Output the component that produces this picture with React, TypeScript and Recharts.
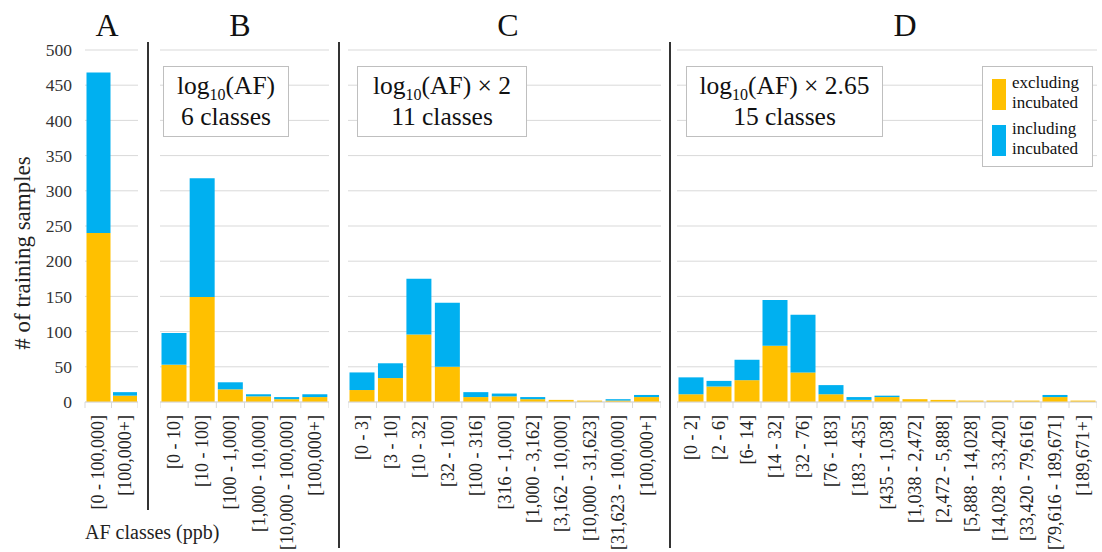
import { BarChart, Bar, XAxis, YAxis, CartesianGrid } from 'recharts';

const serif = "'Liberation Serif', 'Times New Roman', serif";

const classesA = ['[0 - 100,000]', '[100,000+]'];
const excludingA = [240, 9];
const includingA = [468, 14];

const classesB = ['[0 - 10]', '[10 - 100]', '[100 - 1,000]', '[1,000 - 10,000]', '[10,000 - 100,000]', '[100,000+]'];
const excludingB = [53, 149, 18, 8, 4, 7];
const includingB = [98, 318, 28, 11, 7, 11];

const classesC = [
    '[0 - 3]', '[3 - 10]', '[10 - 32]', '[32 - 100]', '[100 - 316]', '[316 - 1,000]',
    '[1,000 - 3,162]', '[3,162 - 10,000]', '[10,000 - 31,623]', '[31,623 - 100,000]', '[100,000+]',
];
const excludingC = [17, 34, 96, 50, 7, 8, 4, 3, 2, 2, 7];
const includingC = [42, 55, 175, 141, 14, 12, 7, 3, 2, 4, 10];

const classesD = [
    '[0 - 2]', '[2 - 6]', '[6- 14]', '[14 - 32]', '[32 - 76]', '[76 - 183]', '[183 - 435]',
    '[435 - 1,038]', '[1,038 - 2,472]', '[2,472 - 5,888]', '[5,888 - 14,028]',
    '[14,028 - 33,420]', '[33,420 - 79,616]', '[79,616 - 189,671]', '[189,671+]',
];
const excludingD = [11, 22, 31, 80, 42, 11, 3, 7, 4, 3, 2, 2, 2, 7, 2];
const includingD = [35, 30, 60, 145, 124, 24, 7, 9, 4, 3, 2, 2, 2, 10, 2];

const yTicks = [0, 50, 100, 150, 200, 250, 300, 350, 400, 450, 500];

const ORANGE = '#FFC000';
const BLUE = '#00B0F0';
const GRID = '#d9d9d9';

const CHART_H = 552;
const TOP = 50;
const AXIS_H = 150;

interface PanelProps {
    classes: string[];
    excluding: number[];
    including: number[];
    left: number;
    plotWidth: number;
    axisWidth?: number;
}

const makeTick = (band: number, count: number) => (props: any) => {
    const { x, y, payload, index } = props;
    const base = CHART_H - AXIS_H;
    return (
        <g>
            <line x1={x - band / 2} x2={x - band / 2} y1={base} y2={base + 6} stroke={GRID} />
            {index === count - 1 && (
                <line x1={x + band / 2} x2={x + band / 2} y1={base} y2={base + 6} stroke={GRID} />
            )}
            <text
                transform={`translate(${x},${y + 5}) rotate(-90)`}
                textAnchor="end"
                dominantBaseline="central"
                fontSize={18}
                fontFamily={serif}
                fill="#222"
            >
                {payload.value}
            </text>
        </g>
    );
};

const Panel = ({ classes, excluding, including, left, plotWidth, axisWidth = 0 }: PanelProps) => {
    const data = classes.map((name, i) => ({
        name,
        excluding: excluding[i],
        extra: including[i] - excluding[i],
    }));
    const band = plotWidth / classes.length;
    return (
        <div style={{ position: 'absolute', left, top: 0 }}>
            <BarChart
                width={plotWidth + axisWidth}
                height={CHART_H}
                data={data}
                margin={{ top: TOP, right: 0, bottom: 0, left: 0 }}
                barCategoryGap={1.5}
            >
                <CartesianGrid horizontal vertical={false} stroke={GRID} />
                <XAxis
                    dataKey="name"
                    interval={0}
                    height={AXIS_H}
                    axisLine={{ stroke: GRID }}
                    tickLine={false}
                    tick={makeTick(band, classes.length)}
                />
                <YAxis
                    hide={axisWidth === 0}
                    width={axisWidth || 1}
                    domain={[0, 500]}
                    ticks={yTicks}
                    axisLine={false}
                    tickLine={false}
                    tickMargin={7}
                    tick={{ fill: '#333', fontSize: 17.5, fontFamily: serif }}
                />
                <Bar dataKey="excluding" stackId="a" fill={ORANGE} isAnimationActive={false} />
                <Bar dataKey="extra" stackId="a" fill={BLUE} isAnimationActive={false} />
            </BarChart>
        </div>
    );
};

const Letter = ({ x, text }: { x: number; text: string }) => (
    <div
        style={{
            position: 'absolute', left: x - 30, width: 60, top: 5, textAlign: 'center',
            fontSize: 32, fontFamily: serif, color: '#111', lineHeight: '40px',
        }}
    >
        {text}
    </div>
);

const InfoBox = ({ x, width, factor, count }: { x: number; width: number; factor: string; count: string }) => (
    <div
        style={{
            position: 'absolute', left: x, top: 66, width, height: 71, boxSizing: 'border-box',
            border: '1.5px solid #bfbfbf', background: '#fff', textAlign: 'center', whiteSpace: 'nowrap',
            fontFamily: serif, fontSize: 25.5, color: '#111', paddingTop: 5, lineHeight: '28px',
        }}
    >
        <div>
            log<span style={{ fontSize: 16, position: 'relative', top: 6 }}>10</span>(AF){factor}
        </div>
        <div>{count}</div>
    </div>
);

const Separator = ({ x, bottom }: { x: number; bottom: number }) => (
    <div style={{ position: 'absolute', left: x, top: 42, width: 1.5, height: bottom - 42, background: '#333' }} />
);

const App = () => {
    return (
        <div style={{ position: 'absolute', left: 0, top: 0, width: 1102, height: 552, background: '#fff', overflow: 'hidden' }}>
            <Panel classes={classesA} excluding={excludingA} including={includingA} left={0} plotWidth={53} axisWidth={85} />
            <Panel classes={classesB} excluding={excludingB} including={includingB} left={160} plotWidth={169} />
            <Panel classes={classesC} excluding={excludingC} including={includingC} left={348} plotWidth={313} />
            <Panel classes={classesD} excluding={excludingD} including={includingD} left={677} plotWidth={420} />

            <Separator x={147} bottom={510} />
            <Separator x={338} bottom={548} />
            <Separator x={669} bottom={548} />

            <Letter x={107} text="A" />
            <Letter x={240} text="B" />
            <Letter x={508} text="C" />
            <Letter x={905} text="D" />

            <InfoBox x={163} width={126} factor="" count="6 classes" />
            <InfoBox x={357} width={170} factor=" × 2" count="11 classes" />
            <InfoBox x={686} width={197} factor=" × 2.65" count="15 classes" />

            <div
                style={{
                    position: 'absolute', left: 982, top: 66, width: 111, height: 101, boxSizing: 'border-box',
                    border: '1.5px solid #bfbfbf', background: '#fff', fontFamily: serif, fontSize: 17, color: '#111',
                }}
            >
                <div style={{ position: 'absolute', left: 9, top: 12, width: 14, height: 31, background: ORANGE }} />
                <div style={{ position: 'absolute', left: 29, top: 6, lineHeight: '20px' }}>
                    excluding<br />incubated
                </div>
                <div style={{ position: 'absolute', left: 9, top: 58, width: 14, height: 31, background: BLUE }} />
                <div style={{ position: 'absolute', left: 29, top: 52, lineHeight: '20px' }}>
                    including<br />incubated
                </div>
            </div>

            <div
                style={{
                    position: 'absolute', left: 23, top: 253, transform: 'translate(-50%, -50%) rotate(-90deg)',
                    whiteSpace: 'nowrap', fontFamily: serif, fontSize: 23, color: '#222',
                }}
            >
                # of training samples
            </div>

            <div style={{ position: 'absolute', left: 85, top: 521, fontFamily: serif, fontSize: 20, color: '#222' }}>
                AF classes (ppb)
            </div>
        </div>
    );
};

export default App;
